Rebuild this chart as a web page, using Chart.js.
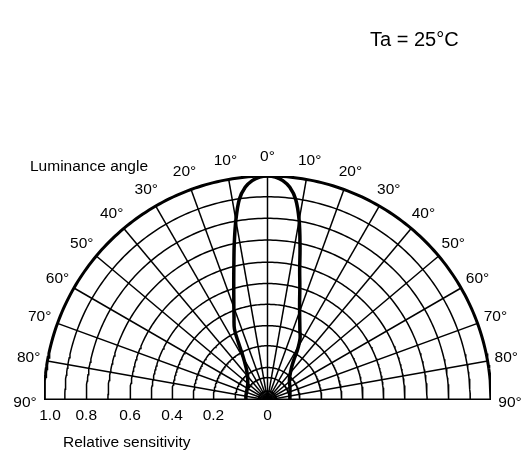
<!DOCTYPE html>
<html>
<head>
<meta charset="utf-8">
<script src="https://cdn.jsdelivr.net/npm/chart.js@4/dist/chart.umd.min.js"></script>
<style>
    body { margin: 0; background: #fff; }
</style>
</head>
<body>
<canvas id="myChart" width="529" height="455"></canvas>
<script>
// curva de radiacion: angulo (grados) y sensibilidad relativa
const angulos = [-90, -80, -70, -60, -50, -45, -40, -37, -34, -31, -29, -27, -25, -22, -20, -18, -16, -14, -12, -10, -8, -6, -4, -2,
    0, 2, 4, 6, 8, 10, 12, 14, 16, 18, 20, 22, 25, 28, 31, 33, 36, 40, 45, 50, 60, 70, 80, 90];
const sensibilidad = [0.096, 0.098, 0.100, 0.105, 0.115, 0.125, 0.138, 0.152, 0.170, 0.200, 0.230, 0.285, 0.350, 0.400, 0.440, 0.488, 0.548, 0.622, 0.715, 0.815, 0.905, 0.955, 0.982, 0.996,
    1.0, 0.996, 0.982, 0.955, 0.905, 0.815, 0.700, 0.595, 0.525, 0.465, 0.420, 0.385, 0.343, 0.310, 0.260, 0.220, 0.185, 0.160, 0.140, 0.128, 0.116, 0.107, 0.102, 0.100];

// rejilla
const anillos = [0.04, 0.1, 0.145, 0.242, 0.332, 0.427, 0.52, 0.615, 0.714, 0.811, 0.907];
const radiales = [-80, -70, -60, -50, -40, -30, -20, -10, 0, 10, 20, 30, 40, 50, 60, 70, 80];
const etiquetasAngulo = [0, 10, 20, 30, 40, 50, 60, 70, 80, 90];
const ticksValor = [1.0, 0.811, 0.615, 0.427, 0.242, 0];
const ticksTexto = ['1.0', '0.8', '0.6', '0.4', '0.2', '0'];

(() => {
    const toXY = (ang, r) => ({
        x: r * Math.sin(ang * Math.PI / 180),
        y: r * Math.cos(ang * Math.PI / 180)
    });

    const arco = (r) => {
        const pts = [];
        for (let a = -90; a <= 90; a += 1) pts.push(toXY(a, r));
        return pts;
    };

    const linea = (data, width) => ({
        data: data,
        showLine: true,
        borderColor: '#000',
        borderWidth: width,
        pointRadius: 0,
        tension: 0
    });

    const datasets = [];
    for (const r of anillos) datasets.push(linea(arco(r), 1.5));
    for (const a of radiales) datasets.push(linea([toXY(a, 0), toXY(a, 1)], 1.5));
    datasets.push(linea(arco(1), 3));
    datasets.push(linea([{ x: -1, y: 0 }, { x: 1, y: 0 }], 3));
    datasets.push({
        ...linea(angulos.map((a, i) => toXY(a, sensibilidad[i])), 3.5),
        tension: 0.35
    });

    const textos = {
        id: 'textos',
        afterDraw: (chart) => {
            const { ctx, scales: { x, y } } = chart;
            ctx.save();
            ctx.fillStyle = '#000';
            ctx.font = '15.5px "Liberation Sans", Arial, sans-serif';
            ctx.textAlign = 'center';
            ctx.textBaseline = 'middle';
            for (const a of etiquetasAngulo) {
                const lados = a === 0 ? [0] : [-a, a];
                for (const s of lados) {
                    const p = toXY(s, 1.085);
                    ctx.fillText(a + '°', x.getPixelForValue(p.x), y.getPixelForValue(p.y) + (a === 90 ? 3 : 0));
                }
            }
            const yTick = y.getPixelForValue(0) + 16;
            ticksValor.forEach((v, i) => {
                const px = Math.max(x.getPixelForValue(-v), x.left + 6);
                ctx.fillText(ticksTexto[i], px, yTick);
            });
            ctx.textAlign = 'left';
            ctx.fillText('Luminance angle', 30, 167);
            ctx.fillText('Relative sensitivity', 63, 443);
            ctx.font = '20px "Liberation Sans", Arial, sans-serif';
            ctx.fillText('Ta = 25°C', 370, 40);
            ctx.restore();
        }
    };

    new Chart(document.getElementById('myChart'), {
        type: 'scatter',
        data: { datasets: datasets },
        options: {
            responsive: false,
            animation: false,
            layout: { padding: { left: 44, right: 38, top: 176, bottom: 55 } },
            plugins: { legend: { display: false }, tooltip: { enabled: false } },
            scales: {
                x: { type: 'linear', min: -1, max: 1, display: false },
                y: { type: 'linear', min: 0, max: 1, display: false }
            }
        },
        plugins: [textos]
    });
})();
</script>
</body>
</html>
